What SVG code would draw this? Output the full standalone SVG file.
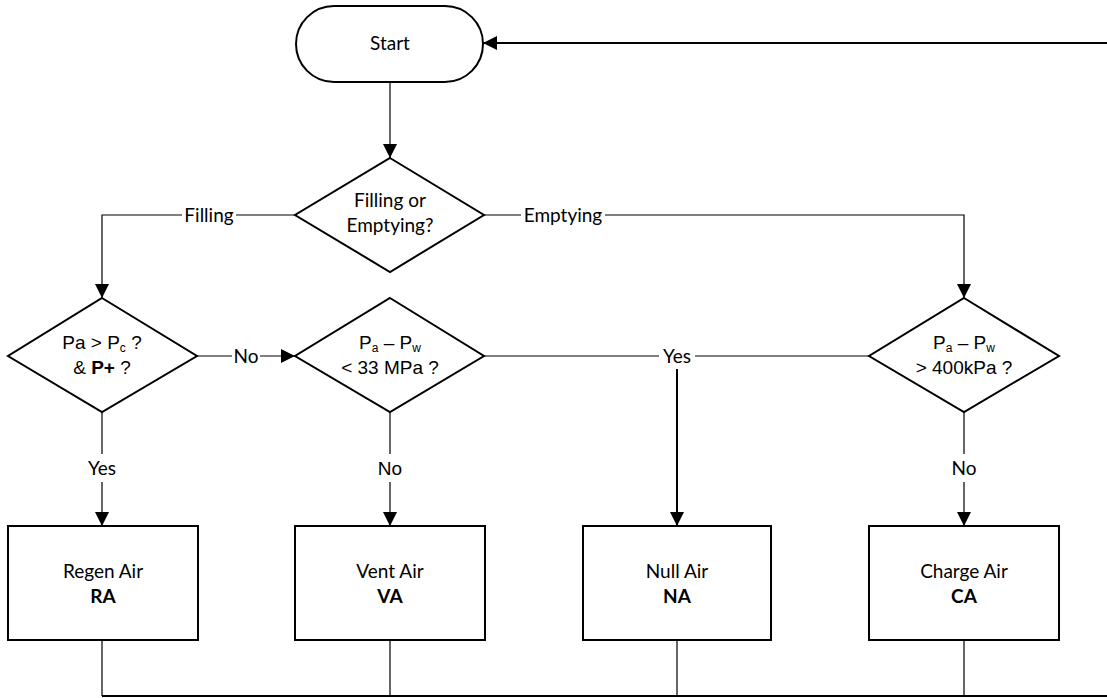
<svg xmlns="http://www.w3.org/2000/svg" width="1107" height="698" viewBox="0 0 1107 698">
  <style>
    .shape { fill: #ffffff; stroke: #000000; stroke-width: 2; }
    .conn { fill: none; stroke: #000000; stroke-width: 1.2; }
    .conn-bold { fill: none; stroke: #000000; stroke-width: 2; }
    .lbl { font-family: Lato, "Liberation Sans", sans-serif; font-size: 19px; fill: #000000; text-anchor: middle; }
    .lbl-b { font-family: Lato, "Liberation Sans", sans-serif; font-size: 19px; font-weight: bold; fill: #000000; text-anchor: middle; }
    .math { font-family: "Liberation Sans", Arial, sans-serif; font-size: 19px; fill: #000000; text-anchor: middle; }
    .sub { font-size: 12px; }
  </style>
  <defs>
    <marker id="arrow" markerUnits="userSpaceOnUse" markerWidth="14" markerHeight="14" refX="14" refY="7" orient="auto">
      <path d="M0,0 L14,7 L0,14 Z" fill="#000000"/>
    </marker>
  </defs>

  <rect width="1107" height="698" fill="#ffffff"/>

  <!-- connectors -->
  <g id="connectors">
    <!-- loop back into Start -->
    <path class="conn-bold" d="M1107,43 H483" marker-end="url(#arrow)"/>
    <path class="conn" d="M390,82 V158" marker-end="url(#arrow)"/>

    <!-- Filling branch -->
    <path class="conn" d="M295,215 H236"/>
    <path class="conn" d="M182,215 H102 V298" marker-end="url(#arrow)"/>
    <text class="lbl" x="209" y="222">Filling</text>

    <!-- Emptying branch -->
    <path class="conn" d="M484,215 H521"/>
    <path class="conn" d="M605,215 H964 V298" marker-end="url(#arrow)"/>
    <text class="lbl" x="563" y="222">Emptying</text>

    <!-- Pa > Pc : No -->
    <path class="conn" d="M197,356 H232"/>
    <path class="conn" d="M260,356 H295" marker-end="url(#arrow)"/>
    <text class="lbl" x="246" y="363">No</text>

    <!-- Yes to Null Air -->
    <path class="conn" d="M484,356 H659"/>
    <path class="conn" d="M695,356 H869"/>
    <text class="lbl" x="677" y="363">Yes</text>
    <path class="conn-bold" d="M677,369 V526" marker-end="url(#arrow)"/>

    <!-- Pa > Pc : Yes -->
    <path class="conn" d="M102,412 V454"/>
    <path class="conn" d="M102,482 V526" marker-end="url(#arrow)"/>
    <text class="lbl" x="102" y="475">Yes</text>

    <!-- < 33 MPa : No -->
    <path class="conn" d="M390,412 V454"/>
    <path class="conn" d="M390,482 V526" marker-end="url(#arrow)"/>
    <text class="math" x="390" y="475">No</text>

    <!-- > 400kPa : No -->
    <path class="conn" d="M964,412 V454"/>
    <path class="conn" d="M964,482 V526" marker-end="url(#arrow)"/>
    <text class="lbl" x="964" y="475">No</text>

    <!-- return bus -->
    <path class="conn" d="M102,640 V696 M390,640 V696 M677,640 V696 M964,640 V696"/>
    <path class="conn-bold" d="M102,696 H1107"/>
  </g>

  <!-- Start terminator -->
  <g id="start">
    <rect class="shape" x="296" y="6" width="187" height="76" rx="38" ry="38"/>
    <text class="lbl" x="390" y="50">Start</text>
  </g>

  <!-- Filling or Emptying decision -->
  <g id="decision-mode">
    <polygon class="shape" points="390,158 484,215 390,272 295,215"/>
    <text class="lbl" x="390" y="207">Filling or</text>
    <text class="lbl" x="390" y="232">Emptying?</text>
  </g>

  <!-- Pa > Pc decision -->
  <g id="decision-pc">
    <polygon class="shape" points="102,298 197,356 102,412 8,356"/>
    <text class="math" x="102" y="349">Pa &gt; P<tspan class="sub" dy="3">c</tspan><tspan dy="-3"> ?</tspan></text>
    <text class="math" x="102" y="374">&amp; <tspan font-weight="bold">P+</tspan> ?</text>
  </g>

  <!-- Pa - Pw < 33 MPa decision -->
  <g id="decision-33mpa">
    <polygon class="shape" points="390,298 484,356 390,412 295,356"/>
    <text class="math" x="390" y="349">P<tspan class="sub" dy="3">a</tspan><tspan dy="-3"> – P</tspan><tspan class="sub" dy="3">w</tspan></text>
    <text class="math" x="390" y="374">&lt; 33 MPa ?</text>
  </g>

  <!-- Pa - Pw > 400kPa decision -->
  <g id="decision-400kpa">
    <polygon class="shape" points="964,298 1059,356 964,412 869,356"/>
    <text class="math" x="964" y="349">P<tspan class="sub" dy="3">a</tspan><tspan dy="-3"> – P</tspan><tspan class="sub" dy="3">w</tspan></text>
    <text class="math" x="964" y="374">&gt; 400kPa ?</text>
  </g>

  <!-- outcome boxes -->
  <g id="regen-air">
    <rect class="shape" x="8" y="526" width="190" height="114"/>
    <text class="lbl" x="103" y="578">Regen Air</text>
    <text class="lbl-b" x="103" y="603">RA</text>
  </g>
  <g id="vent-air">
    <rect class="shape" x="295" y="526" width="190" height="114"/>
    <text class="lbl" x="390" y="578">Vent Air</text>
    <text class="lbl-b" x="390" y="603">VA</text>
  </g>
  <g id="null-air">
    <rect class="shape" x="583" y="526" width="188" height="114"/>
    <text class="lbl" x="677" y="578">Null Air</text>
    <text class="lbl-b" x="677" y="603">NA</text>
  </g>
  <g id="charge-air">
    <rect class="shape" x="869" y="526" width="190" height="114"/>
    <text class="lbl" x="964" y="578">Charge Air</text>
    <text class="lbl-b" x="964" y="603">CA</text>
  </g>
</svg>
